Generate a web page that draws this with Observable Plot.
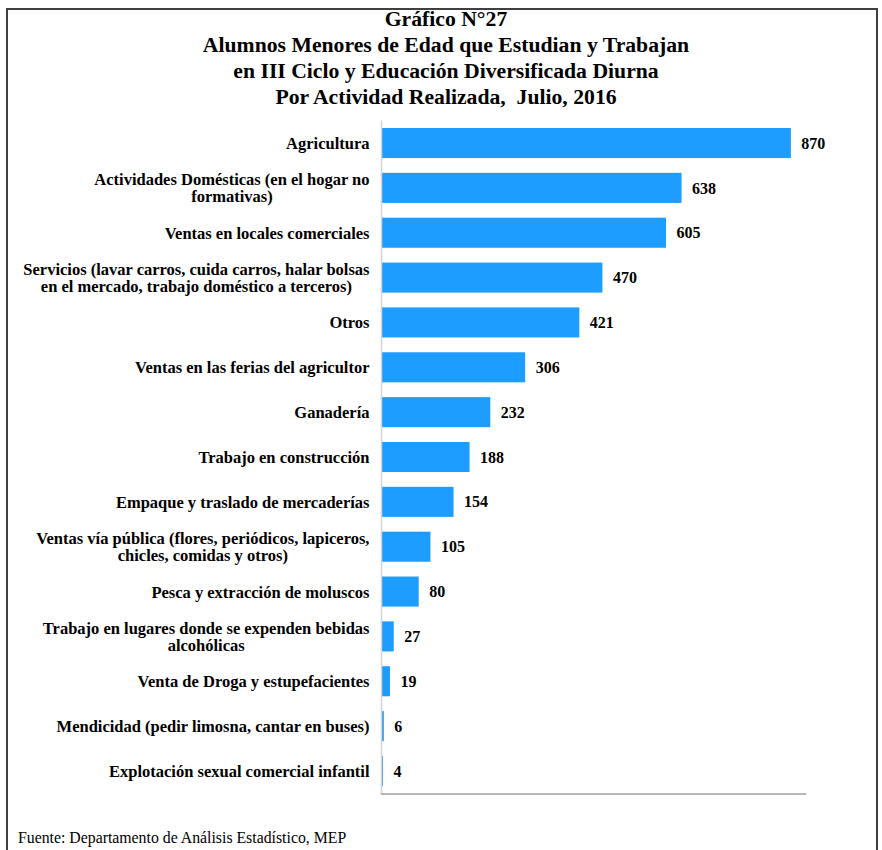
<!DOCTYPE html>
<html><head><meta charset="utf-8">
<script src="https://cdn.jsdelivr.net/npm/d3@7"></script>
<script src="https://cdn.jsdelivr.net/npm/@observablehq/plot@0.6"></script>
<style>
body{margin:0;background:#fff;}
#wrap{position:relative;width:882px;height:850px;overflow:hidden;font-family:"Liberation Serif","Times New Roman",serif;color:#000;}
#border{position:absolute;left:6px;top:8px;width:872px;height:900px;border:2px solid #404040;box-sizing:border-box;}
#title{position:absolute;top:6px;left:4px;width:884px;text-align:center;font-weight:bold;font-size:21.7px;line-height:26px;}
#chart{position:absolute;left:0;top:110px;}
#foot{position:absolute;left:18px;top:829px;font-size:15.8px;line-height:18px;}
</style></head>
<body>
<div id="wrap">
  <div id="border"></div>
  <div id="title">Gráfico N°27<br>Alumnos Menores de Edad que Estudian y Trabajan<br>en III Ciclo y Educación Diversificada Diurna<br>Por Actividad Realizada,&nbsp; Julio, 2016</div>
  <div id="chart"></div>
  <div id="foot">Fuente: Departamento de Análisis Estadístico, MEP</div>
</div>
<script>
const categories = [
  "Agricultura",
  "Actividades Domésticas (en el hogar no\nformativas)",
  "Ventas en locales comerciales",
  "Servicios (lavar carros, cuida carros, halar bolsas\nen el mercado, trabajo doméstico a terceros)",
  "Otros",
  "Ventas en las ferias del agricultor",
  "Ganadería",
  "Trabajo en construcción",
  "Empaque y traslado de mercaderías",
  "Ventas vía pública (flores, periódicos, lapiceros,\nchicles, comidas y otros)",
  "Pesca y extracción de moluscos",
  "Trabajo en lugares donde se expenden bebidas\nalcohólicas",
  "Venta de Droga y estupefacientes",
  "Mendicidad (pedir limosna, cantar en buses)",
  "Explotación sexual comercial infantil"
];
const values = [870, 638, 605, 470, 421, 306, 232, 188, 154, 105, 80, 27, 19, 6, 4];

const data = categories.map((c, i) => ({cat: c, value: values[i]}));
const font = "'Liberation Serif','Times New Roman',serif";

const chart = Plot.plot({
  width: 882,
  height: 700,
  marginLeft: 381,
  marginRight: 77,
  marginTop: 10.6,
  marginBottom: 16.6,
  x: {domain: [0, 900], axis: null},
  y: {domain: categories, axis: null, paddingInner: 0.33, paddingOuter: 0.165, round: false},
  style: {fontFamily: font, fontSize: "16.5px", color: "#000", background: "transparent", overflow: "visible"},
  marks: [
    Plot.barX(data, {x: "value", y: "cat", fill: "#1c9dff"}),
    Plot.ruleX([0], {stroke: "#d4d4d4", strokeWidth: 1.5}),
    Plot.frame({anchor: "bottom", stroke: "#a0a0a0", strokeWidth: 1.5}),
    Plot.text(data, {x: "value", y: "cat", text: d => String(d.value), dx: 10, textAnchor: "start", fontWeight: "bold", fontSize: 16, fill: "#000"}),
    Plot.text(data, {y: "cat", frameAnchor: "left", dx: -12, text: "cat", textAnchor: "end", fontWeight: "bold", fontSize: 16.5, lineHeight: 1.03, fill: "#000"})
  ]
});
document.getElementById("chart").appendChild(chart);

// center multi-line labels within their block (right-aligned block)
const groups = chart.querySelectorAll('g[aria-label="text"]');
const labelGroup = groups[groups.length - 1];
labelGroup.querySelectorAll("text").forEach(t => {
  const spans = t.querySelectorAll("tspan");
  if (spans.length > 1) {
    let maxW = 0;
    spans.forEach(s => { maxW = Math.max(maxW, s.getComputedTextLength()); });
    t.setAttribute("text-anchor", "middle");
    spans.forEach(s => s.setAttribute("x", -maxW / 2));
  }
});
</script>
</body></html>
